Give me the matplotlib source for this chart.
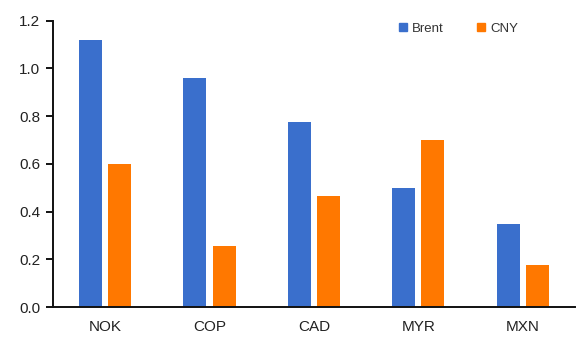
import matplotlib.pyplot as plt
import numpy as np
from matplotlib.lines import Line2D

plt.rcParams['font.family'] = ['Liberation Sans', 'DejaVu Sans']

categories = ["NOK", "COP", "CAD", "MYR", "MXN"]
brent = [1.12, 0.96, 0.775, 0.50, 0.35]
cny = [0.60, 0.255, 0.465, 0.70, 0.175]
yticks = [0.0, 0.2, 0.4, 0.6, 0.8, 1.0, 1.2]

blue = "#3A6FCC"
orange = "#FF7800"

fig = plt.figure(figsize=(5.79, 3.40), dpi=100)
ax = fig.add_axes([0.0915, 0.097, 0.9015, 0.842])

x = np.arange(len(categories))
w = 0.22
ax.bar(x - 0.14, brent, w, color=blue)
ax.bar(x + 0.14, cny, w, color=orange)

ax.set_xlim(-0.5, len(categories) - 0.5)
ax.set_ylim(0, 1.2)
ax.set_yticks(yticks)
ax.set_yticklabels([f"{v:.1f}" for v in yticks], fontsize=11, color="#222222")
ax.set_xticks(x)
ax.set_xticklabels(categories, fontsize=11, color="#222222")
ax.tick_params(axis="x", length=0, pad=9)
ax.tick_params(axis="y", length=5, width=1.3, direction="out", pad=4)

for s in ["top", "right"]:
    ax.spines[s].set_visible(False)
for s in ["left", "bottom"]:
    ax.spines[s].set_linewidth(1.4)
    ax.spines[s].set_color("#111111")

handles = [
    Line2D([], [], marker="s", linestyle="none", markersize=6, color=blue, label="Brent"),
    Line2D([], [], marker="s", linestyle="none", markersize=6, color=orange, label="CNY"),
]
ax.legend(handles=handles, ncol=2, frameon=False, fontsize=9.5,
          loc="upper left", bbox_to_anchor=(0.64, 1.035),
          handlelength=0.6, handletextpad=0.35, columnspacing=2.6,
          labelcolor="#333333")

fig.savefig("out.png", dpi=100)
